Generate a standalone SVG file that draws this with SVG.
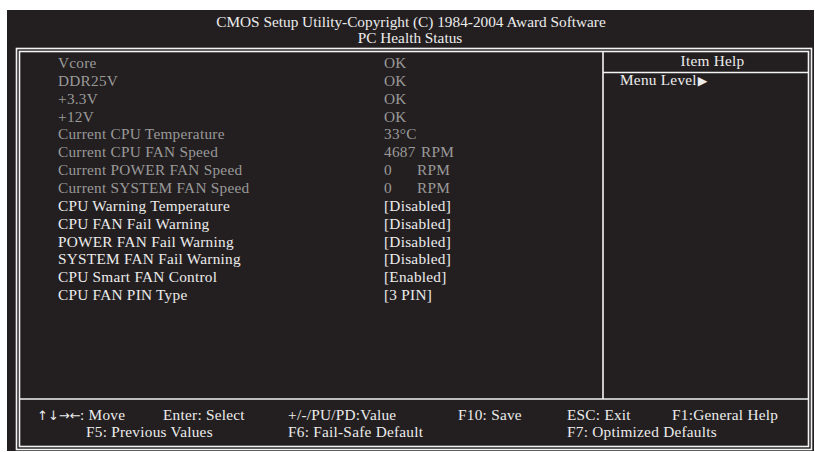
<svg xmlns="http://www.w3.org/2000/svg" width="815" height="452" viewBox="0 0 815 452">
<style>
text{font-family:"Liberation Serif","Times New Roman",serif;font-size:15.3px;font-weight:normal;letter-spacing:0.25px}
#header text{letter-spacing:0}
.w{fill:#ececec}
.g{fill:#9a9a9a}
.ln{stroke:#f4f4f4;stroke-width:1.6;fill:none}
.mid{text-anchor:middle}
.sym{font-family:"DejaVu Sans",sans-serif;letter-spacing:0}
</style>
<rect width="815" height="452" fill="#ffffff"/>
<rect id="panel" x="7" y="10" width="807" height="441" fill="#231f20"/>
<g id="header">
<text class="w mid" x="411" y="27">CMOS Setup Utility-Copyright (C) 1984-2004 Award Software</text>
<text class="w mid" x="410" y="43">PC Health Status</text>
</g>
<g id="frame">
<rect class="ln" x="16.5" y="48.5" width="795" height="401"/>
<rect class="ln" x="19.5" y="51.5" width="789" height="395"/>
<line class="ln" x1="19.5" y1="399" x2="808.5" y2="399"/>
<line class="ln" x1="603" y1="51.5" x2="603" y2="399"/>
<line class="ln" x1="603" y1="72.5" x2="808.5" y2="72.5"/>
</g>
<g id="status-items">
<text class="g" x="58" y="68">Vcore</text>
<text class="g" x="58" y="85.9">DDR25V</text>
<text class="g" x="58" y="103.7">+3.3V</text>
<text class="g" x="58" y="121.6">+12V</text>
<text class="g" x="58" y="139.4">Current CPU Temperature</text>
<text class="g" x="58" y="157.3">Current CPU FAN Speed</text>
<text class="g" x="58" y="175.1">Current POWER FAN Speed</text>
<text class="g" x="58" y="193">Current SYSTEM FAN Speed</text>
</g>
<g id="status-values">
<text class="g" x="384" y="68">OK</text>
<text class="g" x="384" y="85.9">OK</text>
<text class="g" x="384" y="103.7">OK</text>
<text class="g" x="384" y="121.6">OK</text>
<text class="g" x="384" y="139.4">33°C</text>
<text class="g" x="384" y="157.3">4687<tspan x="421">RPM</tspan></text>
<text class="g" x="384" y="175.1">0<tspan x="417">RPM</tspan></text>
<text class="g" x="384" y="193">0<tspan x="417">RPM</tspan></text>
</g>
<g id="setting-items">
<text class="w" x="58" y="210.8">CPU Warning Temperature</text>
<text class="w" x="58" y="228.7">CPU FAN Fail Warning</text>
<text class="w" x="58" y="246.5">POWER FAN Fail Warning</text>
<text class="w" x="58" y="264.4">SYSTEM FAN Fail Warning</text>
<text class="w" x="58" y="282.2">CPU Smart FAN Control</text>
<text class="w" x="58" y="300.1">CPU FAN PIN Type</text>
</g>
<g id="setting-values">
<text class="w" x="384" y="210.8">[Disabled]</text>
<text class="w" x="384" y="228.7">[Disabled]</text>
<text class="w" x="384" y="246.5">[Disabled]</text>
<text class="w" x="384" y="264.4">[Disabled]</text>
<text class="w" x="384" y="282.2">[Enabled]</text>
<text class="w" x="384" y="300.1">[3 PIN]</text>
</g>
<g id="item-help">
<text class="w mid" x="712.5" y="66">Item Help</text>
<text class="w" x="620" y="85">Menu Level<tspan class="sym" font-size="12.5" dx="1" dy="-0.5">▶</tspan></text>
</g>
<g id="footer">
<text class="w" x="37" y="419.5"><tspan class="sym" font-size="13">↑↓→←</tspan><tspan x="80">: Move</tspan></text>
<text class="w" x="163" y="419.5">Enter: Select</text>
<text class="w" x="288" y="419.5">+/-/PU/PD:Value</text>
<text class="w" x="458" y="419.5">F10: Save</text>
<text class="w" x="567" y="419.5">ESC: Exit</text>
<text class="w" x="672" y="419.5">F1:General Help</text>
<text class="w" x="86" y="437">F5: Previous Values</text>
<text class="w" x="288" y="437">F6: Fail-Safe Default</text>
<text class="w" x="567" y="437">F7: Optimized Defaults</text>
</g>
</svg>
